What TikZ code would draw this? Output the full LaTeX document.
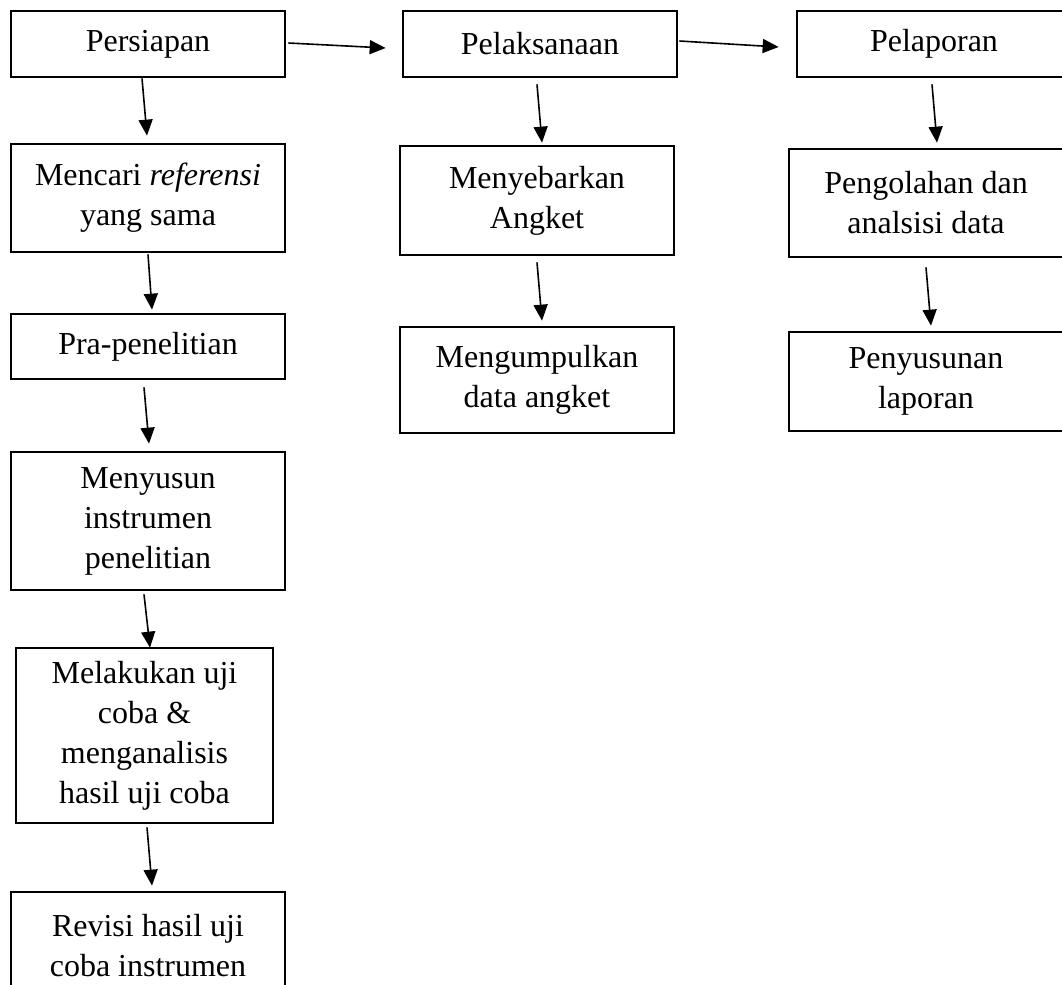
\documentclass[tikz,border=0pt]{standalone}
\usepackage{fontspec}
\setmainfont{Liberation Serif}
\usetikzlibrary{arrows.meta}
\begin{document}
\begin{tikzpicture}[x=0.5pt,y=-0.5pt,
  stepbox/.style={draw=black, line width=1.35pt, fill=none, align=center, inner sep=0pt,
    minimum width=137pt, font=\fontsize{16}{20}\selectfont},
  flow/.style={line width=0.8pt, -{Triangle[length=8pt,width=7pt]}}]
\useasboundingbox (0,0) rectangle (1062,985);
\clip (0,0) rectangle (1062,985);
% column 1
\node[stepbox, minimum height=33pt] (per) at (148,44) {Persiapan};
\node[stepbox, minimum height=54pt] (mencari) at (148,198) {Mencari \textit{referensi}\\yang sama};
\node[stepbox, minimum height=32.5pt] (pra) at (148,346.5) {Pra-penelitian};
\node[stepbox, minimum height=69pt] (menyusun) at (148,521) {Menyusun\\instrumen\\penelitian};
\node[stepbox, minimum height=87.5pt, minimum width=128.5pt] (melakukan) at (144.5,735.5) {Melakukan uji\\coba \&\\menganalisis\\hasil uji coba};
\node[stepbox, minimum height=54pt] (revisi) at (148,946) {Revisi hasil uji\\coba instrumen};
% column 2
\node[stepbox, minimum height=33pt] (pel) at (540,44) {Pelaksanaan};
\node[stepbox, minimum height=54.5pt] (menyebar) at (537,200.5) {Menyebarkan\\Angket};
\node[stepbox, minimum height=53pt] (mengumpul) at (537,380) {Mengumpulkan\\data angket};
% column 3
\node[stepbox, minimum height=33pt] (pelap) at (934,44) {Pelaporan};
\node[stepbox, minimum height=54pt] (pengolah) at (926,203) {Pengolahan dan\\analsisi data};
\node[stepbox, minimum height=49.5pt] (penyusun) at (926,381.5) {Penyusunan\\laporan};
% connectors
\draw[flow] ([shift={(2,-1)}]per.east) -- ([shift={(-16,4)}]pel.west);
\draw[flow] ([shift={(1,-3)}]pel.east) -- ([shift={(-17,3)}]pelap.west);
\draw[flow] ([shift={(-6,0)}]per.south) -- ([shift={(-1,-7)}]mencari.north);
\draw[flow] ([shift={(0,1)}]mencari.south) -- ([shift={(4,-3)}]pra.north);
\draw[flow] ([shift={(-4,7)}]pra.south) -- ([shift={(1,-7)}]menyusun.north);
\draw[flow] ([shift={(-4,3)}]menyusun.south) -- ([shift={(5.5,1)}]melakukan.north);
\draw[flow] ([shift={(2.5,3)}]melakukan.south) -- ([shift={(4,-5)}]revisi.north);
\draw[flow] ([shift={(-3,6)}]pel.south) -- ([shift={(5,-2)}]menyebar.north);
\draw[flow] ([shift={(0,6)}]menyebar.south) -- ([shift={(5,-5)}]mengumpul.north);
\draw[flow] ([shift={(-2,6)}]pelap.south) -- ([shift={(11,-5)}]pengolah.north);
\draw[flow] ([shift={(0,9)}]pengolah.south) -- ([shift={(5,-5)}]penyusun.north);
\end{tikzpicture}
\end{document}
